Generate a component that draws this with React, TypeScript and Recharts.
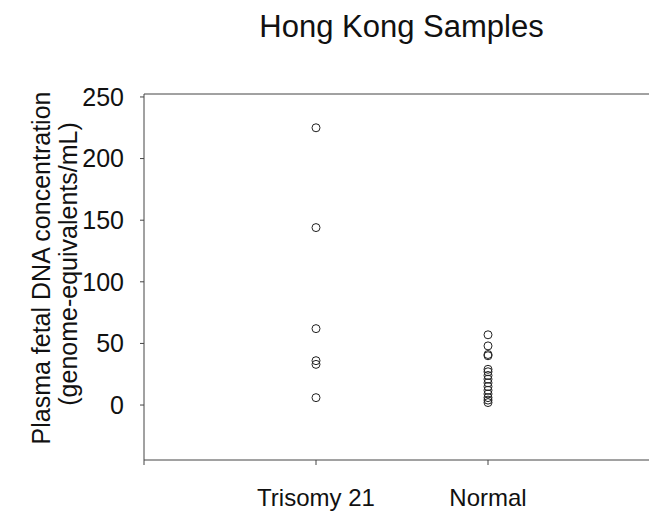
import { ScatterChart, Scatter, XAxis, YAxis, ReferenceLine } from 'recharts';

// group positions on the x axis and their labels
const groupPositions = [1, 2];
const groupLabels = ['Trisomy 21', 'Normal'];

// plasma fetal DNA, genome-equivalents/mL
const trisomyValues = [225, 144, 62, 36, 33, 6];
const normalValues = [57, 48, 41, 40, 29, 27, 24, 21, 18, 15, 12, 9, 6, 4, 2];

const yTicks = [0, 50, 100, 150, 200, 250];
const yMin = -44.6;
const yMax = 252.4;

const trisomyData = trisomyValues.map(v => ({ x: groupPositions[0], y: v }));
const normalData = normalValues.map(v => ({ x: groupPositions[1], y: v }));

const font = 'Arial, "Liberation Sans", Helvetica, sans-serif';

const OpenCircle = (props: any) => (
  <circle cx={props.cx} cy={props.cy} r={4} fill="none" stroke="#222" strokeWidth={1} />
);

const XTick = (props: any) => {
  const { x, y, payload } = props;
  const i = groupPositions.indexOf(payload.value);
  if (i < 0) return null;
  return (
    <text x={x} y={y} dy="0.71em" textAnchor="middle" fontSize={24} fontFamily={font} fill="#111">
      {groupLabels[i]}
    </text>
  );
};

const YLabel = () => (
  <g fontFamily={font} fontSize={25} fill="#111">
    <text x={50} y={268} textAnchor="middle" transform="rotate(-90, 50, 268)">
      Plasma fetal DNA concentration
    </text>
    <text x={77} y={264} textAnchor="middle" transform="rotate(-90, 77, 264)">
      (genome-equivalents/mL)
    </text>
  </g>
);

const App = () => {
  return (
    <div style={{ position: 'absolute', left: 0, top: 0, width: 649, height: 512, background: '#fff', overflow: 'hidden' }}>
      <style>{'body{margin:0;overflow:hidden}'}</style>
      <div
        style={{
          position: 'absolute',
          left: 144,
          right: 0,
          top: 11,
          textAlign: 'center',
          fontFamily: font,
          fontSize: 31,
          lineHeight: '31px',
          color: '#111',
          paddingLeft: 10,
        }}
      >
        Hong Kong Samples
      </div>
      <ScatterChart width={649} height={512} margin={{ top: 94, right: 0, bottom: 0, left: 0 }}>
        <XAxis
          type="number"
          dataKey="x"
          domain={[0, 2.936]}
          ticks={[0, 1, 2]}
          tick={<XTick />}
          tickSize={5}
          tickMargin={24}
          height={52}
          stroke="#444"
          allowDataOverflow
        />
        <YAxis
          type="number"
          dataKey="y"
          domain={[yMin, yMax]}
          ticks={yTicks}
          width={144}
          tickSize={4}
          tickMargin={16}
          stroke="#444"
          tick={{ fontSize: 25, fontFamily: font, fill: '#111' }}
          allowDataOverflow
          label={<YLabel />}
        />
        <ReferenceLine y={yMax} stroke="#444" />
        <Scatter data={trisomyData} shape={<OpenCircle />} isAnimationActive={false} />
        <Scatter data={normalData} shape={<OpenCircle />} isAnimationActive={false} />
      </ScatterChart>
    </div>
  );
};

export default App;
